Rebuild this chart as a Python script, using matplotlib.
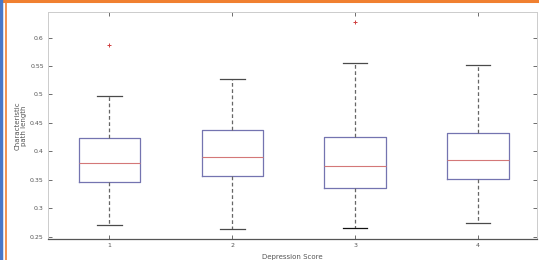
import matplotlib
matplotlib.use("Agg")
import matplotlib.pyplot as plt
from matplotlib.lines import Line2D

categories = ["1", "2", "3", "4"]
whisker_low = [0.270, 0.263, 0.266, 0.274]
q1 = [0.346, 0.356, 0.335, 0.352]
median = [0.380, 0.391, 0.374, 0.384]
q3 = [0.424, 0.437, 0.425, 0.433]
whisker_high = [0.498, 0.527, 0.556, 0.551]
outliers = [[0.587], [], [0.627], []]
yticks = [0.25, 0.3, 0.35, 0.4, 0.45, 0.5, 0.55, 0.6]
ytick_labels = ["0.25", "0.3", "0.35", "0.4", "0.45", "0.5", "0.55", "0.6"]

fig = plt.figure(figsize=(5.39, 2.60), dpi=100)
ax = fig.add_axes([48 / 539, 1 - 239.3 / 260, (537 - 48) / 539, (239.3 - 12) / 260])

stats = []
for i in range(len(categories)):
    stats.append(dict(med=median[i], q1=q1[i], q3=q3[i],
                      whislo=whisker_low[i], whishi=whisker_high[i],
                      fliers=outliers[i], label=categories[i]))

box_col = "#7474b0"
bp = ax.bxp(stats, positions=range(1, 5), widths=0.5, capwidths=0.2,
            showfliers=True, patch_artist=False,
            boxprops=dict(color=box_col, linewidth=0.9),
            medianprops=dict(color="#d47878", linewidth=0.8),
            whiskerprops=dict(color="#666666", linewidth=0.9, linestyle=(0, (3, 2))),
            capprops=dict(color="#4a4a4a", linewidth=0.9),
            flierprops=dict(marker="+", markeredgecolor="#d04040", markerfacecolor="#d04040",
                            markersize=3.5, markeredgewidth=0.7))
bp["caps"][4].set_color("#111111")

ax.set_xlim(0.5, 4.48)
ax.set_ylim(0.2455, 0.645)
ax.set_yticks(yticks)
ax.set_yticklabels(ytick_labels)
ax.set_xticks(range(1, 5))
ax.set_xticklabels(categories)
ax.tick_params(axis="both", direction="in", labelsize=4.5, colors="#555555",
               length=3, width=0.6, top=True, right=True, pad=3)
for s in ["left", "right", "top"]:
    ax.spines[s].set_color("#cccccc")
    ax.spines[s].set_linewidth(0.7)
ax.spines["bottom"].set_color("#555555")
ax.spines["bottom"].set_linewidth(0.9)

ax.set_ylabel("Characteristic\npath length", fontsize=5, color="#555555", labelpad=2, linespacing=1.1)
ax.set_xlabel("Depression Score", fontsize=5, color="#555555", labelpad=4)

# frame decoration lines
fig.add_artist(Line2D([0, 1], [1 - 1 / 260, 1 - 1 / 260], transform=fig.transFigure, color="#f08030", linewidth=2.2))
fig.add_artist(Line2D([1 / 539, 1 / 539], [0, 1], transform=fig.transFigure, color="#4a78c8", linewidth=2.5))
fig.add_artist(Line2D([5.5 / 539, 5.5 / 539], [0, 1 - 1 / 260], transform=fig.transFigure, color="#f08030", linewidth=1.2))

fig.savefig("out.png", dpi=100)
